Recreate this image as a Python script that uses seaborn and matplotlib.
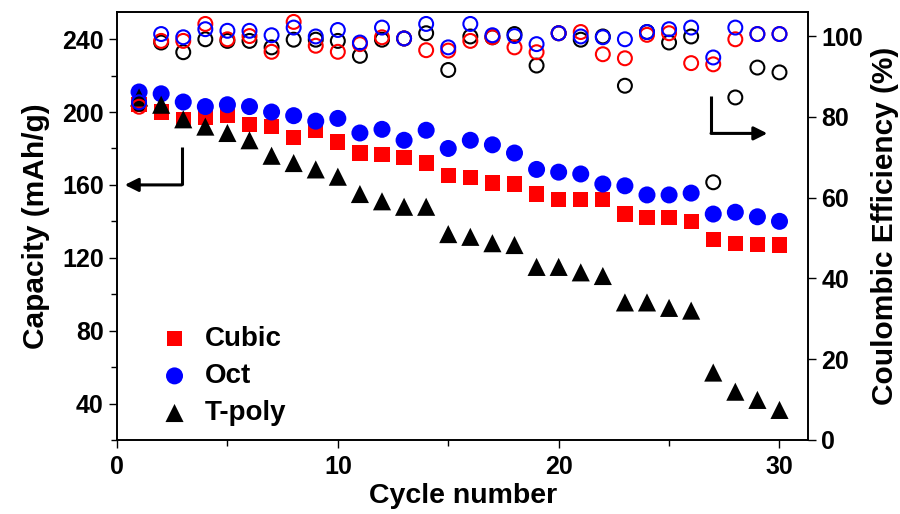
"""
Kapacitet i kulonska efikasnost kroz 30 ciklusa (Cubic / Oct / T-poly).
Sprema out.png (900x514).
"""
import matplotlib
matplotlib.use("Agg")
import matplotlib.pyplot as plt
from matplotlib.ticker import MultipleLocator
import numpy as np
import pandas as pd
import seaborn as sns

# Podaci ocitani sa slike
cycles = list(range(1, 31))

cap_cubic = [204, 200, 196, 197, 198, 193, 192, 186, 190, 183.5,
             177.5, 176.5, 175, 172, 165, 164, 161, 160.5, 155, 152,
             152, 152, 144, 142, 142, 140, 130, 128, 127.5, 127]
cap_oct = [211, 210, 205.5, 203, 204, 203, 200, 198, 195, 196.5,
           188.5, 190.5, 184.5, 190, 180, 184.5, 182, 177.5, 168.5, 167,
           166, 160.5, 159.5, 154.5, 154.5, 155.5, 144, 145, 142.5, 140]
cap_tpoly = [208, 204, 196, 192, 188.5, 184.5, 176, 172, 168.5, 164.5,
             155, 151, 148, 148, 133, 131.5, 128, 127, 115, 115,
             112, 110, 95.5, 95.5, 92.5, 91, 57, 46.5, 42, 36.5]

ce_cubic = [82.5, 98.8, 98.8, 103, 99.2, 100, 96.1, 103.5, 97.6, 96.1,
            98, 99.7, 99.4, 96.5, 96.4, 98.8, 99.7, 97.2, 96, 100.7,
            101, 95.5, 94.5, 100.3, 100.7, 93.3, 93, 99.2, 100.5, 100.5]
ce_oct = [83.6, 100.5, 99.7, 101.7, 101.3, 101.3, 100.2, 102.1, 99.9, 101.5,
          98.4, 102.1, 99.4, 103, 97.2, 103, 100.2, 100, 98, 100.7,
          99.9, 99.7, 99.2, 101, 101.7, 102.1, 94.7, 102.1, 100.5, 100.5]
ce_tpoly = [83.2, 98.4, 96, 99.2, 98.8, 98.8, 97.2, 99.1, 99.1, 98.8,
            95.1, 99.1, 99.4, 100.7, 91.6, 99.9, 99.7, 100.5, 92.7, 100.7,
            99.1, 99.9, 87.7, 101, 98.4, 99.9, 63.8, 84.8, 92.2, 91]

samples = ["Cubic", "Oct", "T-poly"]
colors = {"Cubic": "#FF0000", "Oct": "#0000FF", "T-poly": "#000000"}
markers = {"Cubic": "s", "Oct": "o", "T-poly": "^"}
sizes = {"Cubic": 120, "Oct": 150, "T-poly": 170}

cap_df = pd.DataFrame({
    "cycle": cycles * 3,
    "capacity": cap_cubic + cap_oct + cap_tpoly,
    "sample": [s for s in samples for _ in cycles],
})
ce_df = pd.DataFrame({
    "cycle": cycles * 3,
    "ce": ce_cubic + ce_oct + ce_tpoly,
    "sample": [s for s in samples for _ in cycles],
})

sns.set_style("ticks")
plt.rcParams["font.family"] = ["Liberation Sans", "DejaVu Sans"]
plt.rcParams["font.weight"] = "bold"
plt.rcParams["axes.labelweight"] = "bold"
for key in ("text.color", "axes.labelcolor", "xtick.color", "ytick.color",
            "axes.edgecolor"):
    plt.rcParams[key] = "black"

FS_TICK = 18
FS_XLAB = 20.5
FS_YLAB = 21.5
FS_LEG = 20

fig = plt.figure(figsize=(9, 5.14), dpi=100)
ax = fig.add_axes([0.13, 0.144, 0.768, 0.833])

# Kapacitet - puni markeri
for s in samples:
    sns.scatterplot(data=cap_df[cap_df["sample"] == s], x="cycle", y="capacity",
                    marker=markers[s], color=colors[s], s=sizes[s],
                    edgecolor="none", ax=ax, label=s, zorder=2)

ax.set_xlim(0, 31.3)
ax.set_ylim(20, 255)
ax.xaxis.set_major_locator(MultipleLocator(10))
ax.xaxis.set_minor_locator(MultipleLocator(5))
ax.yaxis.set_major_locator(MultipleLocator(40))
ax.yaxis.set_minor_locator(MultipleLocator(20))
ax.set_yticks([40, 80, 120, 160, 200, 240])
ax.set_xlabel("Cycle number", fontsize=FS_XLAB, fontweight="bold", labelpad=3)
ax.set_ylabel("Capacity (mAh/g)", fontsize=FS_YLAB, fontweight="bold", labelpad=9)
ax.tick_params(axis="both", which="major", labelsize=FS_TICK, length=6, width=1,
               direction="out")
ax.tick_params(axis="x", which="major", pad=5)
ax.tick_params(axis="both", which="minor", length=4, width=1, direction="out")
for lab in ax.get_xticklabels() + ax.get_yticklabels():
    lab.set_fontweight("bold")

leg = ax.legend(loc="upper left", bbox_to_anchor=(0.035, 0.292), frameon=False,
                prop={"size": FS_LEG, "weight": "bold"}, handletextpad=0.3,
                handlelength=1.6, labelspacing=0.4, borderaxespad=0)

# Kulonska efikasnost - prazni krugovi
ax2 = ax.twinx()
for s in ["T-poly", "Cubic", "Oct"]:
    sns.scatterplot(data=ce_df[ce_df["sample"] == s], x="cycle", y="ce",
                    marker="o", facecolor="none", edgecolor=colors[s],
                    linewidth=1.5, s=100, ax=ax2, legend=False)
ax2.set_ylim(0, 106)
ax2.yaxis.set_major_locator(MultipleLocator(20))
ax2.set_ylabel("Coulombic Efficiency (%)", fontsize=FS_YLAB, fontweight="bold",
               labelpad=6)
ax2.tick_params(axis="y", which="major", labelsize=FS_TICK, length=6, width=1,
                direction="out")
for lab in ax2.get_yticklabels():
    lab.set_fontweight("bold")

for a in (ax, ax2):
    for sp in a.spines.values():
        sp.set_visible(True)
        sp.set_linewidth(1.2)
        sp.set_color("black")

# Strelice koje pokazuju os
ax.annotate("", xy=(0.35, 160), xytext=(2.93, 160),
            arrowprops=dict(arrowstyle="-|>", color="black", lw=2.2,
                            mutation_scale=20, shrinkA=0, shrinkB=0))
ax.plot([2.93, 2.93], [160, 181], color="black", lw=2.2, solid_capstyle="butt")
ax2.annotate("", xy=(29.45, 75.9), xytext=(26.9, 75.9),
             arrowprops=dict(arrowstyle="-|>", color="black", lw=2.2,
                             mutation_scale=20, shrinkA=0, shrinkB=0))
ax2.plot([26.9, 26.9], [75.9, 85.2], color="black", lw=2.2, solid_capstyle="butt")

fig.savefig("out.png", dpi=100)
